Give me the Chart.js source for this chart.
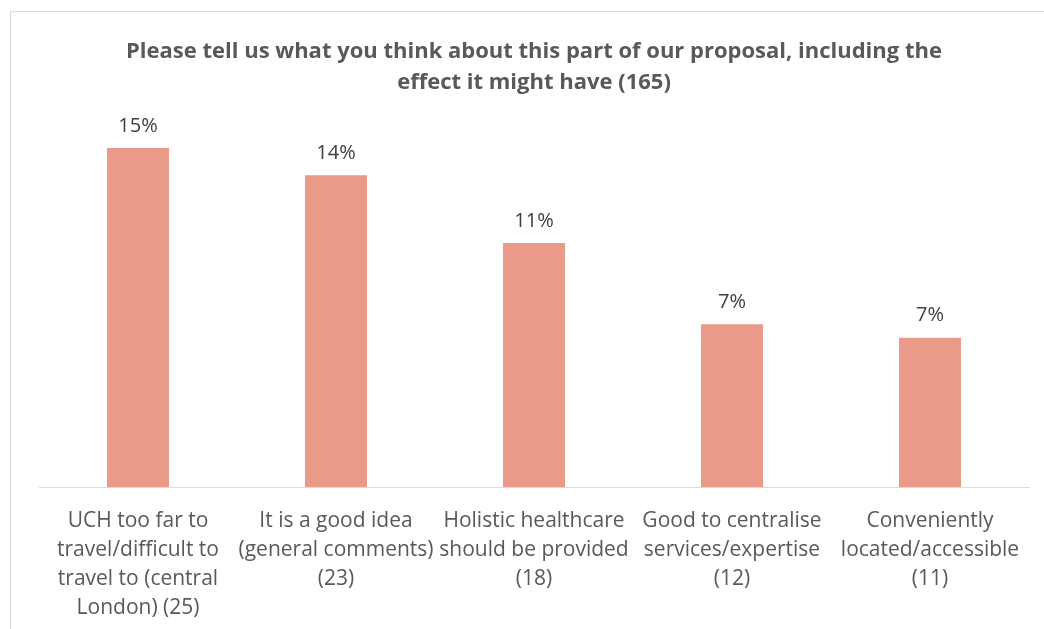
<!DOCTYPE html>
<html>
<head>
<meta charset="utf-8">
<script src="https://cdn.jsdelivr.net/npm/chart.js@4.4.1/dist/chart.umd.min.js"></script>
<style>
  html, body { margin: 0; padding: 0; background: #ffffff; overflow: hidden; }
  #wrap { position: relative; width: 1044px; height: 629px; }
  #frame { position: absolute; left: 10px; top: 11px; width: 1100px; height: 700px; border: 1px solid #D9D9D9; box-sizing: border-box; }
  #chart { position: absolute; left: 0; top: 0; }
</style>
</head>
<body>
<div id="wrap">
  <div id="frame"></div>
  <canvas id="chart" width="1044" height="629"></canvas>
</div>
<script>
// Response themes and how many of the 165 comments mentioned each
const categories = [
  ['UCH too far to', 'travel/difficult to', 'travel to (central', 'London) (25)'],
  ['It is a good idea', '(general comments)', '(23)'],
  ['Holistic healthcare', 'should be provided', '(18)'],
  ['Good to centralise', 'services/expertise', '(12)'],
  ['Conveniently', 'located/accessible', '(11)']
];
const counts = [25, 23, 18, 12, 11];
const totalResponses = 165;
// Share of responses, in percent
const shares = [15.15, 13.94, 10.91, 7.27, 6.67];

const FONT = '"Open Sans", Lato, sans-serif';

// Percentage labels above each bar
const barValueLabels = {
  id: 'barValueLabels',
  afterDatasetsDraw(chart) {
    const ctx = chart.ctx;
    const meta = chart.getDatasetMeta(0);
    ctx.save();
    ctx.font = '20px ' + FONT;
    ctx.fillStyle = '#404040';
    ctx.textAlign = 'center';
    ctx.textBaseline = 'middle';
    meta.data.forEach((bar, i) => {
      const v = chart.data.datasets[0].data[i];
      ctx.fillText(Math.round(v) + '%', bar.x, bar.y - 22);
    });
    ctx.restore();
  }
};

new Chart(document.getElementById('chart'), {
  type: 'bar',
  data: {
    labels: categories,
    datasets: [{
      data: shares,
      backgroundColor: '#EA9A88',
      borderWidth: 0,
      barPercentage: 0.313,
      categoryPercentage: 1.0
    }]
  },
  options: {
    responsive: false,
    animation: false,
    layout: { padding: { left: 39, right: 15, top: 0, bottom: 0 } },
    plugins: {
      legend: { display: false },
      tooltip: { enabled: false },
      title: {
        display: true,
        text: ['Please tell us what you think about this part of our proposal, including the',
               'effect it might have (' + totalResponses + ')'],
        color: '#595959',
        font: { family: FONT, size: 22, weight: 'bold', lineHeight: 1.41 },
        padding: { top: 36, bottom: 31 }
      }
    },
    scales: {
      x: {
        grid: { display: false },
        border: { display: true, color: '#D9D9D9', width: 1 },
        afterFit(scale) { scale.height = 142; },
        ticks: {
          color: '#595959',
          font: { family: FONT, size: 21, lineHeight: 1.38 },
          padding: 12,
          maxRotation: 0,
          autoSkip: false
        }
      },
      y: {
        display: false,
        min: 0,
        max: 16
      }
    }
  },
  plugins: [barValueLabels]
});
</script>
</body>
</html>
